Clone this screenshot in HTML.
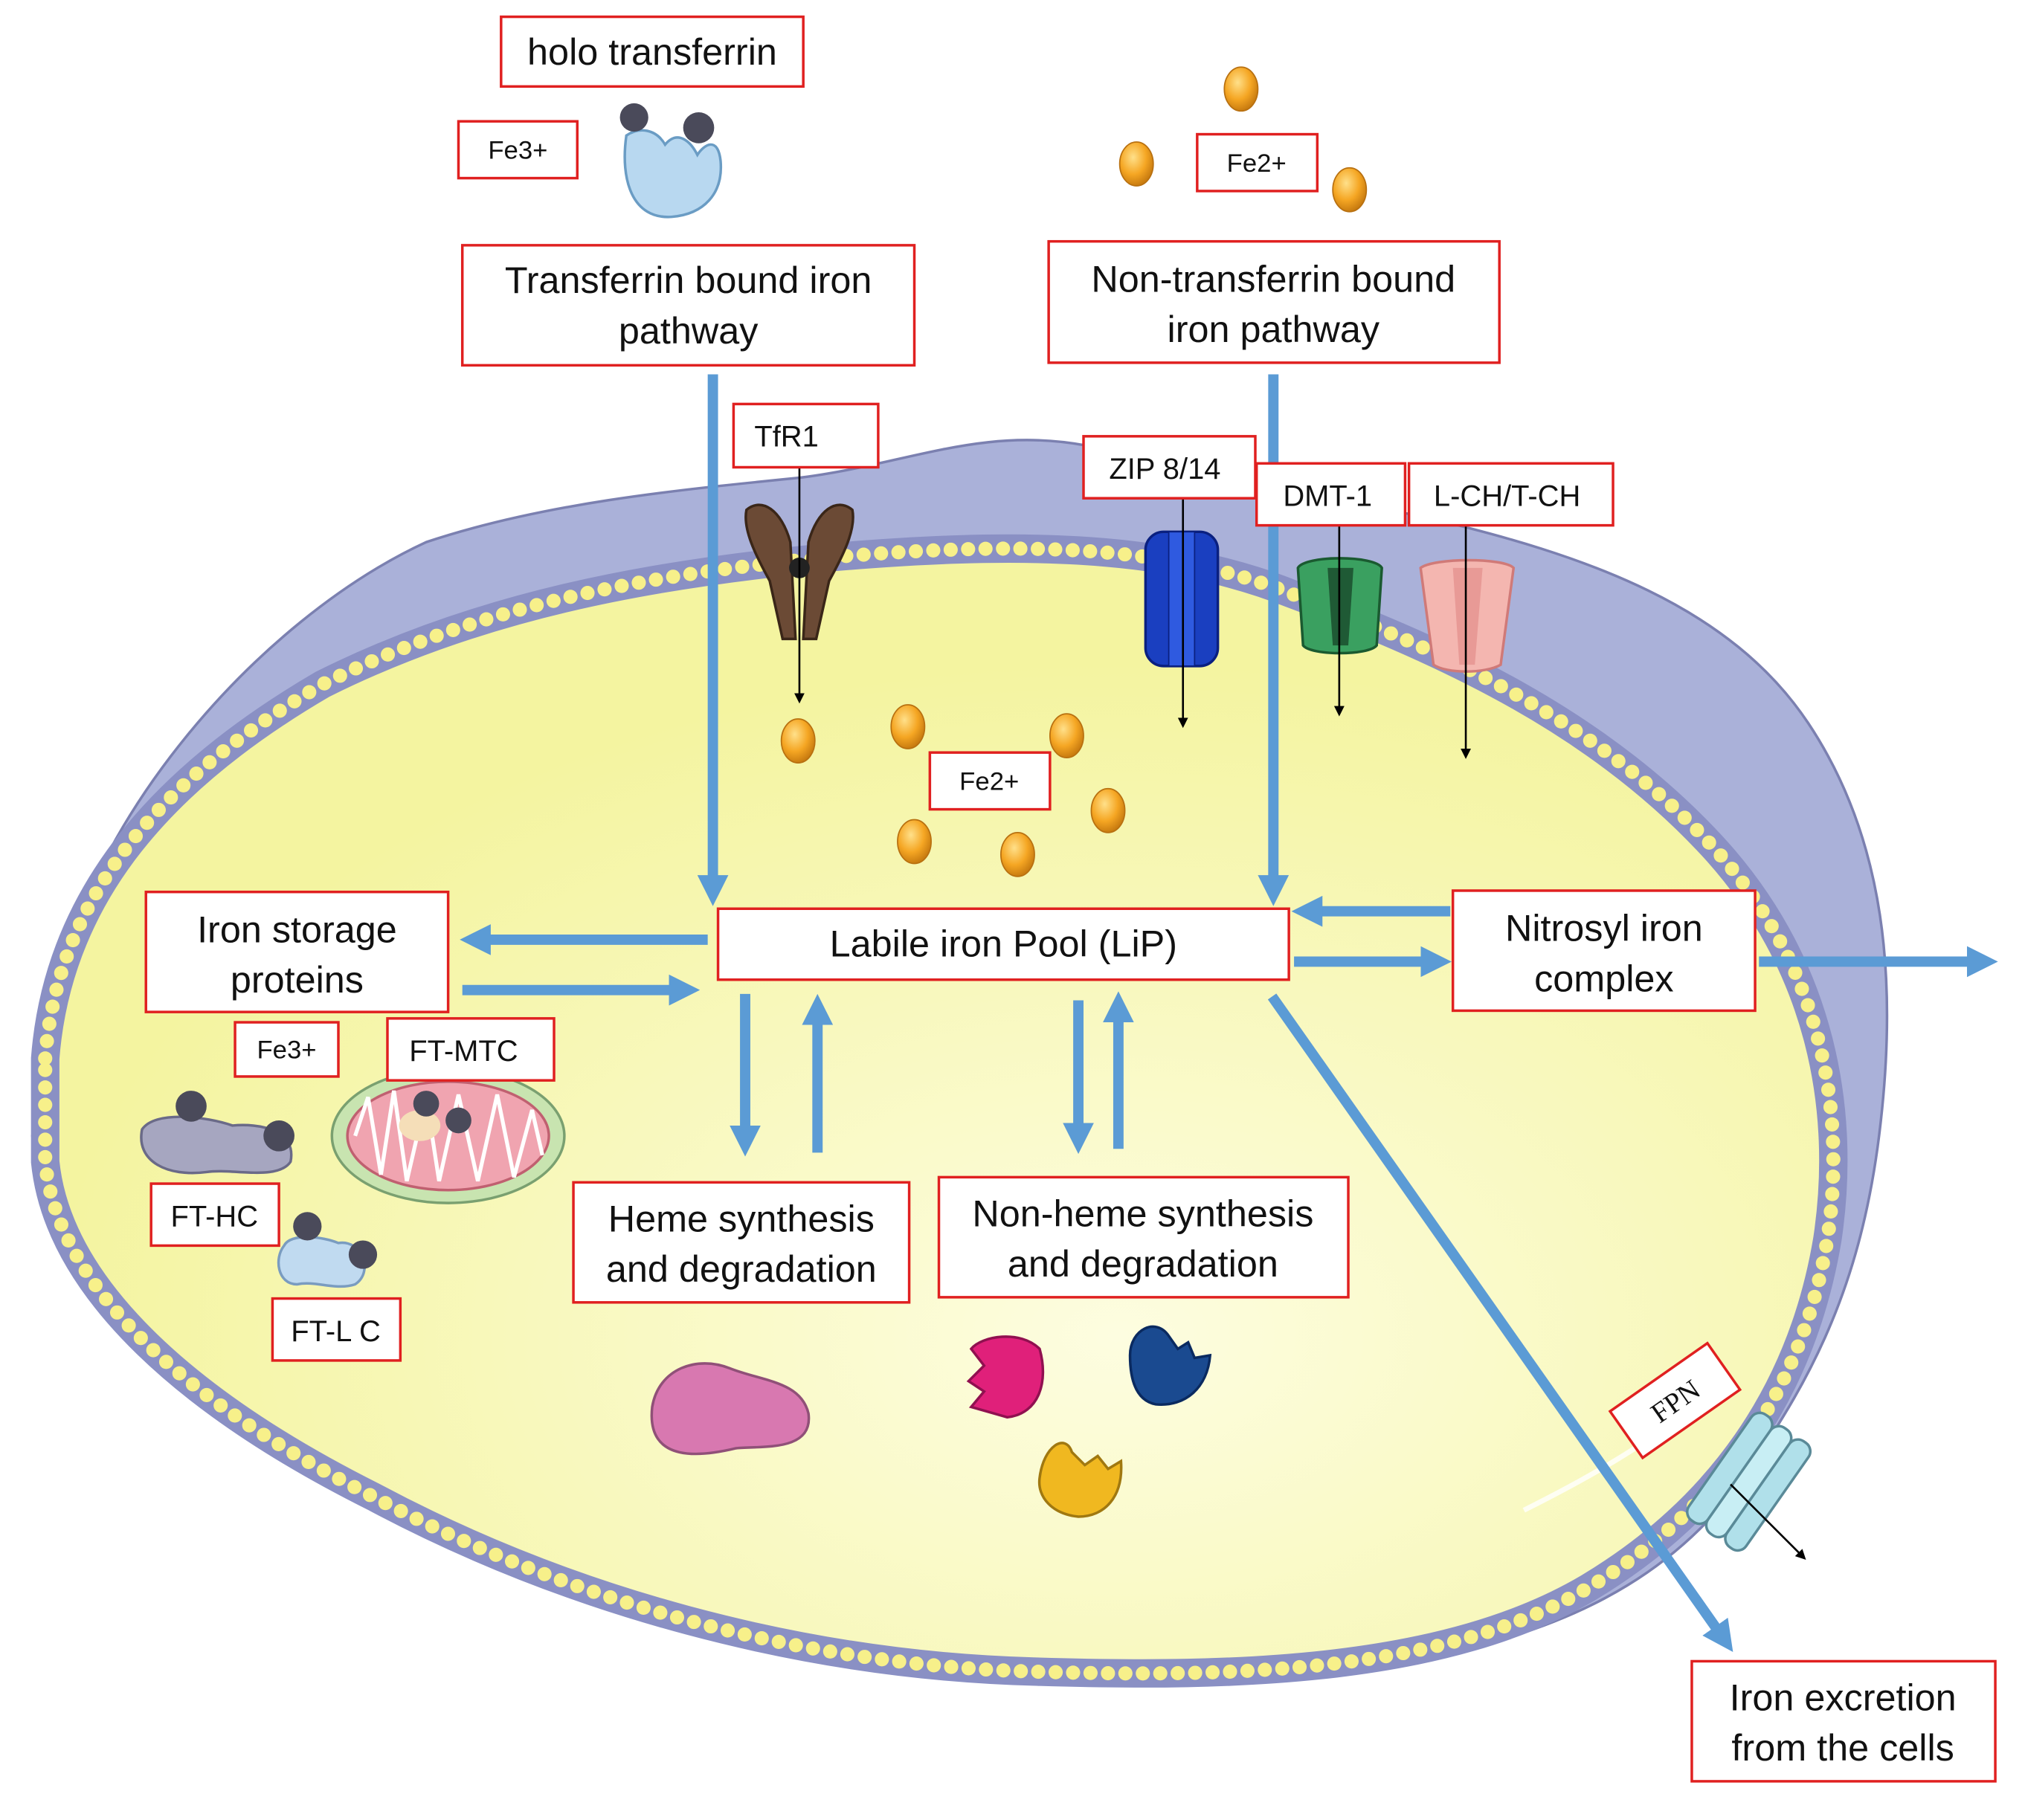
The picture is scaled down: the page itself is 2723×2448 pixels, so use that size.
<!DOCTYPE html>
<html><head><meta charset="utf-8"><style>
html,body{margin:0;padding:0;background:#fff}
svg{display:block}
text{font-family:"Liberation Sans","DejaVu Sans",sans-serif;fill:#111}
</style></head><body>
<svg width="2723" height="2448" viewBox="0 0 1568 1410" preserveAspectRatio="none" xmlns="http://www.w3.org/2000/svg">
<defs>
<radialGradient id="ball" cx="40%" cy="35%" r="65%"><stop offset="0" stop-color="#ffe08a"/><stop offset="0.6" stop-color="#f5a623"/><stop offset="1" stop-color="#c97c10"/></radialGradient>
<radialGradient id="cyto" cx="60%" cy="70%" r="60%"><stop offset="0" stop-color="#fdfde0"/><stop offset="1" stop-color="#f4f4a0"/></radialGradient>
<marker id="bh" markerWidth="3" markerHeight="3" refX="1.5" refY="1.5" orient="auto" markerUnits="strokeWidth"><path d="M0,0 L3,1.5 L0,3 Z" fill="#5b9bd5"/></marker>
<marker id="kh" markerWidth="10" markerHeight="10" refX="6" refY="4" orient="auto" markerUnits="userSpaceOnUse"><path d="M0,0 L8,4 L0,8 Z" fill="#000"/></marker>
</defs>
<path d="M40,790 C60,640 200,480 330,420 C420,390 520,380 620,370 C700,360 760,330 840,345 C920,360 1000,380 1100,400 C1230,430 1340,470 1400,560 C1460,650 1470,760 1455,880 C1440,1000 1400,1080 1330,1170 C1250,1260 1120,1300 900,1300 C700,1300 480,1250 300,1170 C150,1100 40,1000 25,880 Z" fill="#aab1d9" stroke="#7b80b0" stroke-width="2"/>
<path d="M35,820 C45,690 130,600 250,530 C370,470 500,445 640,432 C780,420 900,420 1000,460 C1120,505 1240,560 1330,660 C1410,750 1430,860 1415,960 C1395,1080 1330,1170 1230,1230 C1120,1295 960,1300 800,1295 C620,1290 440,1240 290,1160 C150,1090 45,1000 35,900 Z" fill="url(#cyto)" stroke="#8a90c4" stroke-width="22"/>
<path d="M35,820 C45,690 130,600 250,530 C370,470 500,445 640,432 C780,420 900,420 1000,460 C1120,505 1240,560 1330,660 C1410,750 1430,860 1415,960 C1395,1080 1330,1170 1230,1230 C1120,1295 960,1300 800,1295 C620,1290 440,1240 290,1160 C150,1090 45,1000 35,900 Z" fill="none" stroke="#f7f08a" stroke-width="11" stroke-linecap="round" stroke-dasharray="0 13.5"/>
<path d="M1180,1170 C1240,1140 1290,1110 1320,1080" stroke="#fff" stroke-width="4" fill="none" opacity="0.8"/>

<g fill="url(#ball)" stroke="#b87010" stroke-width="1">
<ellipse cx="961" cy="69" rx="13" ry="17"/><ellipse cx="880" cy="127" rx="13" ry="17"/><ellipse cx="1045" cy="147" rx="13" ry="17"/>
<ellipse cx="618" cy="574" rx="13" ry="17"/><ellipse cx="703" cy="563" rx="13" ry="17"/><ellipse cx="826" cy="570" rx="13" ry="17"/>
<ellipse cx="858" cy="628" rx="13" ry="17"/><ellipse cx="708" cy="652" rx="13" ry="17"/><ellipse cx="788" cy="662" rx="13" ry="17"/>
</g>

<path d="M485,105 C480,140 490,170 520,168 C545,166 560,150 558,125 C556,105 545,112 540,120 C535,110 525,100 515,112 C508,100 495,98 485,105 Z" fill="#b8d8f0" stroke="#6a9cc4" stroke-width="2"/>
<circle cx="491" cy="91" r="11" fill="#4a4a5a"/><circle cx="541" cy="99" r="12" fill="#4a4a5a"/>

<path d="M578,395 C590,385 605,395 612,420 L616,495 L606,495 L596,450 C585,430 575,410 578,395 Z" fill="#6b4a35" stroke="#3a2618" stroke-width="2"/>
<path d="M660,395 C648,385 633,395 626,420 L622,495 L632,495 L642,450 C653,430 663,410 660,395 Z" fill="#6b4a35" stroke="#3a2618" stroke-width="2"/>
<circle cx="619" cy="440" r="8" fill="#222"/>
<rect x="887" y="412" width="56" height="104" rx="14" fill="#1a3fc0" stroke="#0a2080" stroke-width="2"/>
<rect x="905" y="412" width="20" height="104" fill="#2f5ae0" stroke="#0a2080"/>
<path d="M1005,440 C1010,430 1065,430 1070,440 L1066,500 C1060,508 1015,508 1009,500 Z" fill="#3aa060" stroke="#1a5a30" stroke-width="2"/>
<path d="M1028,440 L1048,440 L1044,500 L1032,500 Z" fill="#1f5a35"/>
<path d="M1100,440 C1110,432 1165,432 1172,440 L1162,515 C1150,522 1120,522 1110,515 Z" fill="#f4b6b0" stroke="#d07a78" stroke-width="2"/>
<path d="M1125,440 L1148,440 L1142,515 L1130,515 Z" fill="#e89a96"/>

<path d="M110,875 C120,860 160,865 180,872 C200,870 230,875 225,900 C215,915 180,905 160,908 C130,912 105,900 110,875 Z" fill="#a6a6c0" stroke="#6a6a88" stroke-width="2"/>
<circle cx="148" cy="857" r="12" fill="#4a4a5a"/><circle cx="216" cy="880" r="12" fill="#4a4a5a"/>
<path d="M220,965 C225,955 250,958 262,963 C280,960 290,985 275,995 C260,1000 245,992 230,995 C215,995 212,975 220,965 Z" fill="#c0daf0" stroke="#7a9cc0" stroke-width="2"/>
<circle cx="238" cy="950" r="11" fill="#4a4a5a"/><circle cx="281" cy="972" r="11" fill="#4a4a5a"/>
<ellipse cx="347" cy="880" rx="90" ry="52" fill="#c8e4b0" stroke="#7aa070" stroke-width="2"/>
<ellipse cx="347" cy="880" rx="78" ry="42" fill="#f0a4b0" stroke="#c06070" stroke-width="2"/>
<path d="M275,880 L285,850 L295,910 L305,845 L315,915 L330,850 L340,915 L355,848 L370,915 L385,848 L398,912 L412,860 L420,895" fill="none" stroke="#fff" stroke-width="3"/>
<ellipse cx="325" cy="872" rx="16" ry="12" fill="#f5deb8"/>
<circle cx="330" cy="855" r="10" fill="#4a4a5a"/><circle cx="355" cy="868" r="10" fill="#4a4a5a"/>

<path d="M505,1090 C510,1060 540,1050 565,1060 C590,1070 620,1070 626,1095 C630,1125 590,1120 570,1122 C545,1128 500,1135 505,1090 Z" fill="#d878b0" stroke="#905078" stroke-width="2"/>
<path d="M752,1045 C760,1035 790,1030 805,1045 C812,1070 805,1095 780,1098 L752,1090 L762,1078 L750,1070 L762,1058 Z" fill="#e0207a" stroke="#901050" stroke-width="2"/>
<path d="M875,1050 C875,1030 895,1020 905,1035 L912,1045 L920,1040 L925,1052 L937,1050 C935,1075 918,1090 895,1088 C880,1085 875,1070 875,1050 Z" fill="#1a4a90" stroke="#0a2a60" stroke-width="2"/>
<path d="M805,1145 C808,1120 825,1110 830,1125 L840,1135 L850,1128 L858,1138 L868,1132 C870,1160 855,1175 835,1175 C815,1173 803,1160 805,1145 Z" fill="#f0b820" stroke="#a07810" stroke-width="2"/>
<g transform="translate(1350,1145) rotate(35)">
<rect x="-22" y="-50" width="18" height="100" rx="8" fill="#b0e0ea" stroke="#5a8a98" stroke-width="2"/>
<rect x="-4" y="-50" width="18" height="100" rx="8" fill="#c8eef4" stroke="#5a8a98" stroke-width="2"/>
<rect x="14" y="-50" width="18" height="100" rx="8" fill="#b0e0ea" stroke="#5a8a98" stroke-width="2"/>
</g>

<g stroke="#5b9bd5" stroke-width="8" fill="none" marker-end="url(#bh)">
<line x1="552" y1="290" x2="552" y2="690"/>
<line x1="986" y1="290" x2="986" y2="690"/>
<line x1="548" y1="728" x2="368" y2="728"/>
<line x1="358" y1="767" x2="530" y2="767"/>
<line x1="577" y1="770" x2="577" y2="884"/>
<line x1="633" y1="893" x2="633" y2="782"/>
<line x1="835" y1="775" x2="835" y2="882"/>
<line x1="866" y1="890" x2="866" y2="780"/>
<line x1="1123" y1="706" x2="1012" y2="706"/>
<line x1="1002" y1="745" x2="1112" y2="745"/>
<line x1="1362" y1="745" x2="1535" y2="745"/>
<line x1="985" y1="772" x2="1335" y2="1270"/>
</g>
<g stroke="#000" stroke-width="1.5" marker-end="url(#kh)">
<line x1="619" y1="362" x2="619" y2="543"/>
<line x1="916" y1="386" x2="916" y2="562"/>
<line x1="1037" y1="407" x2="1037" y2="553"/>
<line x1="1135" y1="407" x2="1135" y2="586"/>
<line x1="1340" y1="1150" x2="1397" y2="1207"/>
</g>

<g fill="#fff" stroke="#e02020" stroke-width="2">
<rect x="388" y="13" width="234" height="54"/>
<rect x="355" y="94" width="92" height="44"/>
<rect x="927" y="104" width="93" height="44"/>
<rect x="358" y="190" width="350" height="93"/>
<rect x="812" y="187" width="349" height="94"/>
<rect x="568" y="313" width="112" height="49"/>
<rect x="839" y="338" width="133" height="48"/>
<rect x="973" y="359" width="115" height="48"/>
<rect x="1091" y="359" width="158" height="48"/>
<rect x="720" y="583" width="93" height="44"/>
<rect x="113" y="691" width="234" height="93"/>
<rect x="556" y="704" width="442" height="55"/>
<rect x="1125" y="690" width="234" height="93"/>
<rect x="182" y="792" width="80" height="42"/>
<rect x="300" y="789" width="129" height="48"/>
<rect x="117" y="917" width="99" height="48"/>
<rect x="211" y="1006" width="99" height="48"/>
<rect x="444" y="916" width="260" height="93"/>
<rect x="727" y="912" width="317" height="93"/>
<rect x="1310" y="1287" width="235" height="93"/>
</g>
<g transform="translate(1297,1085) rotate(-35)">
<rect x="-46" y="-22" width="92" height="44" fill="#fff" stroke="#e02020" stroke-width="2"/>
<text x="0" y="8" text-anchor="middle" font-size="22" style="font-family:'Liberation Serif',serif">FPN</text>
</g>

<g text-anchor="middle" font-size="29">
<text x="505" y="50">holo transferrin</text>
<text x="533" y="227">Transferrin bound iron</text><text x="533" y="266">pathway</text>
<text x="986" y="226">Non-transferrin bound</text><text x="986" y="265">iron pathway</text>
<text x="230" y="730">Iron storage</text><text x="230" y="769">proteins</text>
<text x="777" y="741">Labile iron Pool (LiP)</text>
<text x="1242" y="729">Nitrosyl iron</text><text x="1242" y="768">complex</text>
<text x="574" y="954">Heme synthesis</text><text x="574" y="993">and degradation</text>
<text x="885" y="950">Non-heme synthesis</text><text x="885" y="989">and degradation</text>
<text x="1427" y="1325">Iron excretion</text><text x="1427" y="1364">from the cells</text>
</g>
<g text-anchor="middle" font-size="23">
<text x="609" y="346">TfR1</text>
<text x="902" y="371">ZIP 8/14</text>
<text x="1028" y="392">DMT-1</text>
<text x="1167" y="392">L-CH/T-CH</text>
<text x="359" y="822">FT-MTC</text>
<text x="166" y="950">FT-HC</text>
<text x="260" y="1039">FT-L C</text>
</g>
<g text-anchor="middle" font-size="20">
<text x="401" y="123">Fe3+</text>
<text x="973" y="133">Fe2+</text>
<text x="766" y="612">Fe2+</text>
<text x="222" y="820">Fe3+</text>
</g>
</svg>
</body></html>
